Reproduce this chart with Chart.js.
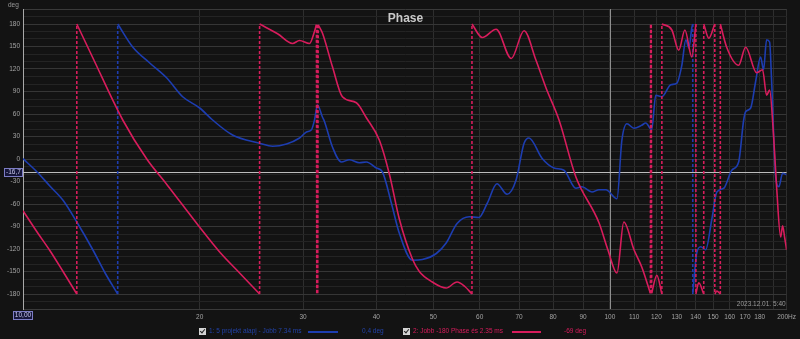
<!DOCTYPE html>
<html>
<head>
<meta charset="utf-8">
<script src="https://cdn.jsdelivr.net/npm/chart.js@4.4.0/dist/chart.umd.min.js"></script>
<style>
  html, body { margin: 0; padding: 0; background: #131313; }
  #wrap { position: relative; width: 800px; height: 339px; overflow: hidden; }
  #c { position: absolute; left: 0; top: 0; }
  .lg { position: absolute; top: 327px; font: 6.5px 'Liberation Sans', Arial, sans-serif; white-space: nowrap; line-height: 8px; }
  .box { position: absolute; top: 328px; width: 7px; height: 7px; background: #d4d4d4; }
  .box:after { content: ''; position: absolute; left: 2px; top: 0px; width: 2px; height: 4px; border-right: 1px solid #222; border-bottom: 1px solid #222; transform: rotate(40deg); }
  .seg { position: absolute; top: 331px; height: 2px; }
</style>
</head>
<body>
<div id="wrap">
  <canvas id="c" width="800" height="339"></canvas>
  <span class="box" style="left:199px"></span>
  <span class="lg" id="t1" style="left:209px;color:#2242a8"></span>
  <span class="seg" style="left:308px;width:30px;background:#1d3db0"></span>
  <span class="lg" id="v1" style="left:362px;color:#2242a8"></span>
  <span class="box" style="left:403px"></span>
  <span class="lg" id="t2" style="left:413px;color:#d81c5c"></span>
  <span class="seg" style="left:512px;width:29px;background:#d81c5c"></span>
  <span class="lg" id="v2" style="left:564px;color:#d81c5c"></span>
</div>
<script>
// frequency (Hz) / wrapped phase (deg) for both measurements
var blueFreq = [10, 10.56, 11.11, 11.70, 12.35, 13.15, 13.80, 14.50, 14.50, 15.39, 16.44, 17.58, 18.71, 20.0,
  21.04, 22.75, 25.30, 26.62, 28.12, 29.59, 30.41, 31.01, 31.38, 31.75, 32.37, 32.63, 33.67, 34.87, 35.98,
  37.42, 38.46, 40.0, 40.95, 42.43, 43.77, 46.06, 47.90, 50.6, 52.6, 54.9, 57.6, 59.8, 61.8, 64.2, 66.8,
  69.2, 71.4, 72.8, 76.6, 80.3, 83.5, 87.5, 89.6, 93.2, 95.8, 98.4, 102.8, 104.8, 106.9, 109.9, 113.3,
  115.1, 117.8, 119.7, 122.6, 127.0, 130.0, 132.6, 134.7, 136.3, 137.9, 138.4, 138.4, 140.6, 142.8, 145.6,
  149.1, 152.1, 156.3, 161.3, 165.7, 169.0, 170.3, 173.7, 177.1, 180.6, 182.7, 184.9, 187.1, 188.6, 191.6,
  194.0, 196.9, 200];
var bluePhase = [0.4, -17, -36, -55, -84, -121, -152, -180, 180, 149, 128, 108, 83, 68,
  52, 32, 21, 17, 20, 28, 36, 39, 52, 72, 56, 50, 16, -4, -1,
  -5, -4, -12, -17, -59, -99, -135, -134, -126, -112, -86, -77, -78, -59, -33, -47,
  -28, 21, 28, 1, -12, -15, -39, -37, -44, -41, -41, -53, 25, 47, 41, 45,
  48, 39, 85, 83, 99, 101, 125, 159, 148, 175, 180, -180, -125, -117, -121,
  -81, -44, -39, -15, -4, 52, 63, 68, 103, 136, 119, 159, 156, 103, -24,
  -37, -19, -21];

var pinkFreq = [10, 10.56, 11.11, 11.70, 12.35, 12.35, 13.15, 14.79, 16.25, 17.58, 20.0, 21.63, 23.39, 25.30,
  25.30, 27.15, 28.79, 29.59, 30.77, 31.38, 31.62, 31.66, 31.72, 31.78, 31.84, 32.37, 33.67, 35.01, 36.98,
  38.46, 40.48, 42.09, 43.77, 46.06, 47.34, 49.82, 52.6, 54.9, 56.6, 58.2, 58.2, 60.6, 64.0, 67.9, 71.4,
  74.8, 77.8, 81.9, 87.5, 95.8, 99.2, 102.8, 105.6, 109.9, 113.3, 117.2, 117.3, 117.5, 117.6, 117.8, 120.2,
  122.6, 122.6, 127.5, 131.0, 134.2, 137.9, 140.1, 140.1, 141.7, 144.5, 144.5, 147.4, 150.9, 150.9, 152.1,
  154.2, 154.2, 158.1, 165.7, 170.3, 177.8, 182.0, 184.9, 187.1, 190.1, 192.3, 195.4, 196.9, 198.5, 200];
var pinkPhase = [-69, -97, -122, -150, -180, 180, 135, 52, 0, -34, -91, -124, -152, -180,
  180, 167, 154, 158, 154, 170, 179, -179, 179, -179, 179, 168, 123, 83, 75,
  55, 25, -20, -80, -133, -150, -164, -172, -164, -170, -180, 180, 162, 173, 134, 171,
  132, 95, 52, -24, -85, -121, -152, -84, -121, -144, -179, 179, -179, 179, -179, -155,
  -180, 180, 172, 145, 172, 136, 180, -180, -165, -180, 180, 161, 180, -180, -176,
  -180, 180, 149, 125, 149, 115, 119, 85, 92, 29, -37, -104, -89, -105, -121];

var xTicks = [10, 20, 30, 40, 50, 60, 70, 80, 90, 100, 110, 120, 130, 140, 150, 160, 170, 180, 190, 200];
var yTicks = [];
for (var v = -200; v <= 200; v += 10) yTicks.push(v);

var legendNames = ['1: 5 projekt alapj - Jobb 7.34 ms', '2: Jobb -180 Phase és 2.35 ms'];
var cursorFreq = 10, cursorPhase = -16.7;
var cursorValues = ['0,4 deg', '-69 deg'];

var BLUE = '#1d3db0', PINK = '#d81c5c';

document.getElementById('t1').textContent = legendNames[0];
document.getElementById('t2').textContent = legendNames[1];
document.getElementById('v1').textContent = cursorValues[0];
document.getElementById('v2').textContent = cursorValues[1];

// split a wrapped phase trace into the solid curve and the dashed wrap jumps
function split(freq, phase) {
  var solid = [], jumps = [];
  for (var i = 0; i < freq.length; i++) {
    if (i > 0 && Math.abs(phase[i] - phase[i - 1]) > 180) {
      solid.push({x: freq[i], y: null});
      jumps.push({x: freq[i - 1], y: phase[i - 1]}, {x: freq[i], y: phase[i]}, {x: freq[i], y: null});
    }
    solid.push({x: freq[i], y: phase[i]});
  }
  return {solid: solid, jumps: jumps};
}

var blue = split(blueFreq, bluePhase);
var pink = split(pinkFreq, pinkPhase);

function fmtNum(v, d) { return v.toFixed(d).replace('.', ','); }

var overlay = {
  id: 'overlay',
  beforeDraw: function(chart) {
    var ctx = chart.ctx;
    ctx.save();
    ctx.fillStyle = '#131313';
    ctx.fillRect(0, 0, chart.width, chart.height);
    ctx.restore();
  },
  beforeDatasetsDraw: function(chart) {
    var ctx = chart.ctx, a = chart.chartArea;
    ctx.save();
    ctx.lineWidth = 1;
    // decade line at 100 Hz
    var x100 = Math.round(chart.scales.x.getPixelForValue(100)) + 0.5;
    ctx.strokeStyle = '#8e8e8e';
    ctx.beginPath();
    ctx.moveTo(x100, a.top);
    ctx.lineTo(x100, a.bottom);
    ctx.stroke();
    // horizontal cursor
    var y = Math.round(chart.scales.y.getPixelForValue(cursorPhase)) + 0.5;
    ctx.strokeStyle = '#bdbdbd';
    ctx.beginPath();
    ctx.moveTo(a.left, y);
    ctx.lineTo(a.right, y);
    ctx.stroke();
    ctx.restore();
  },
  afterDraw: function(chart) {
    var ctx = chart.ctx, a = chart.chartArea;
    ctx.save();
    // title
    ctx.fillStyle = '#c9c9c9';
    ctx.font = 'bold 12px "Liberation Sans", Arial, sans-serif';
    ctx.textAlign = 'center';
    ctx.textBaseline = 'alphabetic';
    ctx.fillText('Phase', 405.5, 21.5);
    // unit
    ctx.fillStyle = '#9a9a9a';
    ctx.font = '6.5px "Liberation Sans", Arial, sans-serif';
    ctx.textAlign = 'left';
    ctx.fillText('deg', 8, 7);
    // time stamp
    ctx.textAlign = 'right';
    ctx.fillText('2023.12.01. 5:40', a.right - 1, a.bottom - 3);
    // cursor readouts
    var cy = chart.scales.y.getPixelForValue(cursorPhase);
    var cx = chart.scales.x.getPixelForValue(cursorFreq);
    ctx.textAlign = 'center';
    ctx.textBaseline = 'middle';
    ctx.fillStyle = '#16163a';
    ctx.strokeStyle = '#7c7cc4';
    ctx.lineWidth = 1;
    ctx.fillRect(4.5, Math.round(cy) - 3.5, 18, 8);
    ctx.strokeRect(4.5, Math.round(cy) - 3.5, 18, 8);
    ctx.fillStyle = '#c8c8ec';
    ctx.fillText(fmtNum(cursorPhase, 1), 13.5, Math.round(cy) + 0.5);
    ctx.fillStyle = '#16163a';
    ctx.fillRect(Math.round(cx) - 9.5, 311.5, 19, 8);
    ctx.strokeRect(Math.round(cx) - 9.5, 311.5, 19, 8);
    ctx.fillStyle = '#c8c8ec';
    ctx.fillText(fmtNum(cursorFreq, 2), Math.round(cx), 315.5);
    ctx.restore();
  }
};

var ctx = document.getElementById('c');
var chart = new Chart(ctx, {
  type: 'line',
  data: {
    datasets: [
      { data: pink.solid, borderColor: PINK, borderWidth: 1.6, pointRadius: 0, cubicInterpolationMode: 'monotone', order: 0 },
      { data: pink.jumps, borderColor: PINK, borderWidth: 1.6, pointRadius: 0, tension: 0, borderDash: [3, 2], order: 0 },
      { data: blue.solid, borderColor: BLUE, borderWidth: 1.6, pointRadius: 0, cubicInterpolationMode: 'monotone', order: 1 },
      { data: blue.jumps, borderColor: BLUE, borderWidth: 1.6, pointRadius: 0, tension: 0, borderDash: [3, 2], order: 1 }
    ]
  },
  options: {
    responsive: false,
    animation: false,
    devicePixelRatio: 1,
    layout: { padding: { top: 9, right: 12, left: 0, bottom: 0 } },
    plugins: { legend: { display: false }, tooltip: { enabled: false } },
    scales: {
      x: {
        type: 'logarithmic',
        min: 10,
        max: 200,
        afterBuildTicks: function(scale) { scale.ticks = xTicks.map(function(v) { return {value: v}; }); },
        afterFit: function(scale) { scale.height = 30; },
        ticks: {
          autoSkip: false,
          maxRotation: 0,
          padding: 4,
          color: '#a3a3a3',
          font: { family: '"Liberation Sans", Arial, sans-serif', size: 6.5 },
          callback: function(v) {
            if (v === 10 || v === 190) return '';
            if (v === 200) return '200Hz';
            return String(v);
          }
        },
        grid: {
          drawTicks: false,
          color: function(c) {
            var v = c.tick && c.tick.value;
            if (v === 10) return 'rgba(0,0,0,0)';
            return '#2e2e2e';
          }
        },
        border: { color: '#3a3a3a' }
      },
      y: {
        type: 'linear',
        min: -200,
        max: 200,
        afterBuildTicks: function(scale) { scale.ticks = yTicks.map(function(v) { return {value: v}; }); },
        afterFit: function(scale) { scale.width = 23; },
        ticks: {
          autoSkip: false,
          padding: 3,
          color: '#a3a3a3',
          font: { family: '"Liberation Sans", Arial, sans-serif', size: 6.5 },
          callback: function(v) { return (v % 30 === 0 && Math.abs(v) <= 180) ? String(v) : ''; }
        },
        grid: {
          drawTicks: false,
          color: function(c) {
            var v = c.tick && c.tick.value;
            if (Math.abs(v) === 200) return '#3a3a3a';
            return v % 30 === 0 ? '#363636' : '#242424';
          }
        },
        border: { color: '#a8a8a8' }
      }
    }
  },
  plugins: [overlay]
});
</script>
</body>
</html>
